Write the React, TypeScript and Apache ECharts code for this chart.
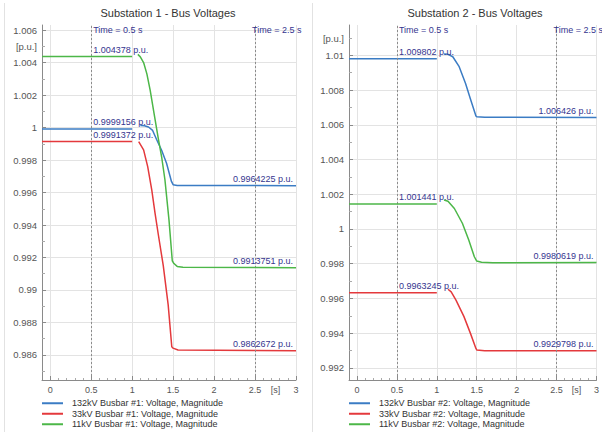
import React, { useEffect, useRef } from 'react';
import * as echarts from 'echarts';

type Pt = [number, number | null];

const FONT = "'Liberation Sans Narrow', 'Liberation Sans', Arial, sans-serif";

const titles = ['Substation 1 - Bus Voltages', 'Substation 2 - Bus Voltages'];
const names1 = [
  '132kV Busbar #1: Voltage, Magnitude',
  '33kV Busbar #1: Voltage, Magnitude',
  '11kV Busbar #1: Voltage, Magnitude',
];
const names2 = [
  '132kV Busbar #2: Voltage, Magnitude',
  '33kV Busbar #2: Voltage, Magnitude',
  '11kV Busbar #2: Voltage, Magnitude',
];
const colors = ['#3b7cc4', '#e4393c', '#4cb748'];

// Substation 1
const s1Bus132: Pt[] = [
  [-0.1, 0.9999156], [1.0, 0.9999156], [1.05, null],
  [1.1, 1.00012], [1.15, 1.00011], [1.2, 1.00003], [1.25, 0.99982], [1.3, 0.99925],
  [1.36, 0.9986], [1.42, 0.9978], [1.48, 0.99668], [1.5, 0.99648], [1.55, 0.99643], [3.0, 0.9964225],
];
const s1Bus33: Pt[] = [
  [-0.1, 0.9991372], [1.0, 0.9991372], [1.04, null],
  [1.08, 0.99913], [1.14, 0.99862], [1.19, 0.99759], [1.24, 0.99615], [1.28, 0.99472],
  [1.32, 0.9934], [1.38, 0.9915], [1.44, 0.98908], [1.484, 0.98651], [1.5, 0.98642],
  [1.56, 0.98631], [3.0, 0.9862672],
];
const s1Bus11: Pt[] = [
  [-0.1, 1.004378], [1.0, 1.004378], [1.04, null],
  [1.07, 1.0045], [1.1, 1.00435], [1.14, 1.004], [1.18, 1.0033], [1.22, 1.0023], [1.27, 1.0008],
  [1.32, 0.9993], [1.36, 0.9982], [1.4, 0.9968], [1.45, 0.9943], [1.49, 0.9918], [1.51, 0.99163],
  [1.55, 0.99145], [1.62, 0.9914], [3.0, 0.9913751],
];
// Substation 2
const s2Bus132: Pt[] = [
  [-0.1, 1.009802], [1.0, 1.009802], [1.04, null],
  [1.09, 1.01008], [1.14, 1.01006], [1.2, 1.00992], [1.28, 1.00935], [1.36, 1.00838],
  [1.42, 1.0075], [1.49, 1.00651], [1.5, 1.00646], [1.6, 1.00643], [3.0, 1.006426],
];
const s2Bus33: Pt[] = [
  [-0.1, 0.9963245], [1.0, 0.9963245], [1.07, null],
  [1.14, 0.99653], [1.18, 0.99638], [1.24, 0.9959], [1.34, 0.99495], [1.42, 0.994],
  [1.49, 0.99312], [1.5, 0.99303], [1.6, 0.99299], [3.0, 0.9929798],
];
const s2Bus11: Pt[] = [
  [-0.1, 1.001441], [1.0, 1.001441], [1.04, null],
  [1.09, 1.00167], [1.14, 1.0016], [1.22, 1.00118], [1.32, 1.00033], [1.4, 0.99937],
  [1.47, 0.9984], [1.5, 0.99815], [1.56, 0.99808], [1.7, 0.99806], [3.0, 0.9980619],
];

const s1Start = [0.9999156, 0.9991372, 1.004378];
const s1End = [0.9964225, 0.9862672, 0.9913751];
const s2Start = [1.009802, 0.9963245, 1.001441];
const s2End = [1.006426, 0.9929798, 0.9980619];

const cursorTimes = [0.5, 2.5];
const xRange = [-0.1, 3];
const xTickValues = [0, 0.5, 1, 1.5, 2, 2.5, 3];
const xUnitPos = 2.75;
const xUnit = '[s]';
const y1Range = [0.98446, 1.00631];
const y1TickValues = [0.986, 0.988, 0.99, 0.992, 0.994, 0.996, 0.998, 1, 1.002, 1.004, 1.006];
const y1UnitPos = 1.005;
const y2Range = [0.9913, 1.01175];
const y2TickValues = [0.992, 0.994, 0.996, 0.998, 1, 1.002, 1.004, 1.006, 1.008, 1.01];
const y2UnitPos = 1.011;
const yUnit = '[p.u.]';

const LABEL_BLUE = '#35358f';
const AXIS_GRAY = '#8a8a8a';
const GRID_GRAY = '#e3e3e3';

function buildOption() {
  const grids = [
    { left: 42, top: 25, width: 254, height: 355 },
    { left: 349, top: 25, width: 254, height: 355 },
  ];
  const yRanges = [y1Range, y2Range];
  const yTicks = [y1TickValues, y2TickValues];
  const yUnitPos = [y1UnitPos, y2UnitPos];

  const xAxes = [0, 1].map((g) => ({
    type: 'value',
    gridIndex: g,
    min: xRange[0],
    max: xRange[1],
    splitNumber: 6,
    axisLine: { show: true, onZero: false, lineStyle: { color: AXIS_GRAY } },
    axisTick: { show: true, inside: true, length: 4, customValues: xTickValues, lineStyle: { color: AXIS_GRAY } },
    minorTick: { show: true, splitNumber: 5, length: 2, lineStyle: { color: '#aaaaaa' } },
    axisLabel: {
      customValues: [...xTickValues.slice(0, 6), xUnitPos, xTickValues[6]],
      formatter: (v: number) => (v === xUnitPos ? xUnit : String(v)),
      fontSize: 9,
      color: '#555',
      margin: 5,
      fontFamily: FONT,
    },
    splitLine: { show: true, lineStyle: { color: GRID_GRAY } },
  }));

  const yAxes = [0, 1].map((g) => ({
    type: 'value',
    gridIndex: g,
    min: yRanges[g][0],
    max: yRanges[g][1],
    splitNumber: g === 0 ? 11 : 10,
    axisLine: { show: true, onZero: false, lineStyle: { color: AXIS_GRAY } },
    axisTick: { show: true, inside: true, length: 4, customValues: yTicks[g], lineStyle: { color: AXIS_GRAY } },
    minorTick: { show: true, splitNumber: 2, length: 3, lineStyle: { color: '#aaaaaa' } },
    axisLabel: {
      customValues: [...yTicks[g], yUnitPos[g]],
      formatter: (v: number) => (v === yUnitPos[g] ? yUnit : String(v)),
      fontSize: 9.5,
      color: '#555',
      margin: 5,
      fontFamily: FONT,
    },
    splitLine: { show: true, lineStyle: { color: GRID_GRAY } },
  }));

  const groups = [
    { names: names1, data: [s1Bus132, s1Bus33, s1Bus11], start: s1Start, end: s1End },
    { names: names2, data: [s2Bus132, s2Bus33, s2Bus11], start: s2Start, end: s2End },
  ];

  const labelBase = { show: true, color: LABEL_BLUE, fontSize: 9, fontFamily: FONT };

  const series: any[] = [];
  groups.forEach((grp, g) => {
    grp.data.forEach((d, i) => {
      const mpData: any[] = [
        {
          coord: [cursorTimes[0], grp.start[i]],
          label: { ...labelBase, position: 'right', distance: 2, offset: [0, -6.5], formatter: `${grp.start[i]} p.u.` },
        },
        {
          coord: [xRange[1], grp.end[i]],
          label: { ...labelBase, position: 'left', distance: 3, offset: [0, -6.5], formatter: `${grp.end[i]} p.u.` },
        },
      ];
      const s: any = {
        type: 'line',
        name: grp.names[i],
        xAxisIndex: g,
        yAxisIndex: g,
        data: d,
        showSymbol: false,
        symbol: 'none',
        connectNulls: false,
        lineStyle: { width: 1.5, color: colors[i] },
        itemStyle: { color: colors[i] },
        z: 3 + i,
        markPoint: { symbol: 'circle', symbolSize: 0, silent: true, data: mpData },
      };
      if (i === 0) {
        mpData.push(
          {
            coord: [cursorTimes[0], yRanges[g][1]],
            label: { ...labelBase, position: 'right', distance: 2, offset: [0, 5], formatter: `Time = ${cursorTimes[0]} s` },
          },
          {
            coord: [cursorTimes[1], yRanges[g][1]],
            label: { ...labelBase, position: 'right', distance: 0, offset: [-3, 5], formatter: `Time = ${cursorTimes[1]} s` },
          }
        );
        s.markLine = {
          symbol: ['none', 'none'],
          silent: true,
          label: { show: false },
          lineStyle: { type: [2, 2], color: '#8c8c8c', width: 1 },
          data: cursorTimes.map((t) => ({ xAxis: t })),
        };
      }
      series.push(s);
    });
  });

  const legends = groups.map((grp, g) => ({
    data: grp.names,
    left: grids[g].left,
    top: 398,
    orient: 'vertical',
    icon: 'rect',
    itemWidth: 21,
    itemHeight: 2,
    itemGap: 0,
    padding: 0,
    selectedMode: false,
    textStyle: { fontSize: 9, lineHeight: 10.5, color: '#333', padding: [0, 0, 0, 4], fontFamily: FONT },
  }));

  return {
    animation: false,
    backgroundColor: '#ffffff',
    title: [
      { text: titles[0], left: 168, top: 7, textAlign: 'center', padding: 0, textStyle: { fontSize: 11, fontWeight: 'normal', color: '#333', fontFamily: FONT } },
      { text: titles[1], left: 475, top: 7, textAlign: 'center', padding: 0, textStyle: { fontSize: 11, fontWeight: 'normal', color: '#333', fontFamily: FONT } },
    ],
    grid: grids,
    xAxis: xAxes,
    yAxis: yAxes,
    legend: legends,
    series,
    graphic: [
      { type: 'line', silent: true, shape: { x1: 4.5, y1: 3, x2: 4.5, y2: 432 }, style: { stroke: '#e2e2e2', lineWidth: 1 } },
      { type: 'line', silent: true, shape: { x1: 312.5, y1: 3, x2: 312.5, y2: 432 }, style: { stroke: '#e2e2e2', lineWidth: 1 } },
    ],
  };
}

export default function App() {
  const ref = useRef<HTMLDivElement>(null);
  useEffect(() => {
    if (!ref.current) return;
    const chart = echarts.init(ref.current, undefined, { renderer: 'svg' });
    chart.setOption(buildOption() as any);
    return () => chart.dispose();
  }, []);
  return (
    <div
      ref={ref}
      style={{ position: 'absolute', left: 0, top: 0, width: 602, height: 432, background: '#fff' }}
    />
  );
}
